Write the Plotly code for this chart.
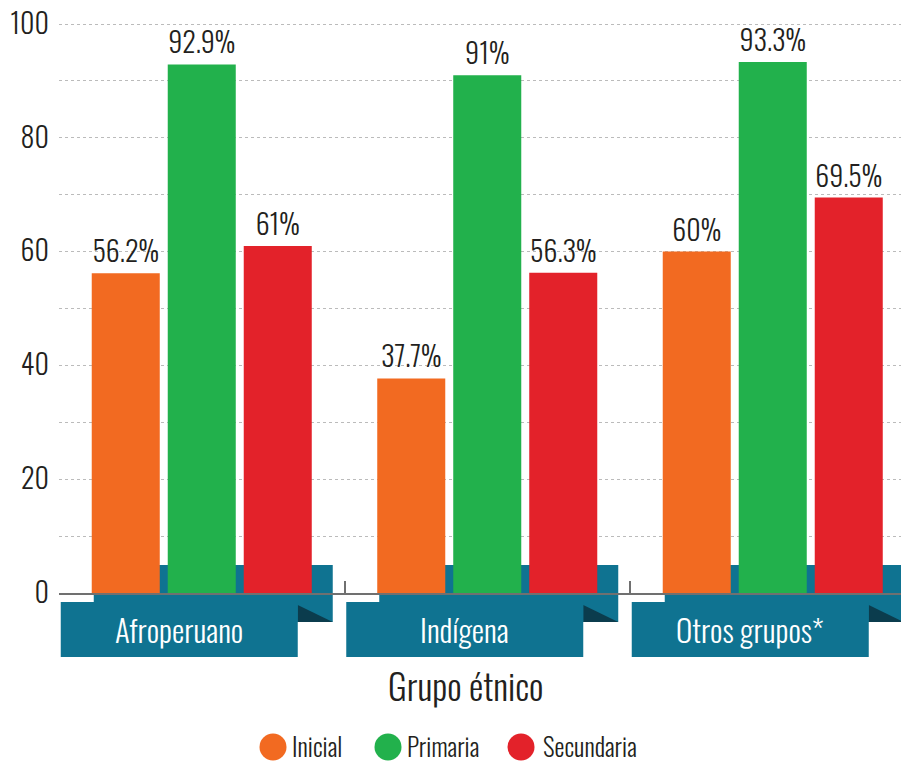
import plotly.graph_objects as go

categories = ["Afroperuano", "Indígena", "Otros grupos*"]
series_names = ["Inicial", "Primaria", "Secundaria"]
inicial = [56.2, 37.7, 60]
primaria = [92.9, 91, 93.3]
secundaria = [61, 56.3, 69.5]
series_values = [inicial, primaria, secundaria]
colors = ["#f26a21", "#22b14c", "#e3222a"]
y_ticks = [0, 20, 40, 60, 80, 100]
x_title = "Grupo étnico"

FONT = "Oswald, Roboto Condensed, sans-serif"
WT = 300
TXT = "#231f20"
TEAL = "#0f7391"
DARK = "#0b3c4d"

W, H = 901, 766
ML, MR, MT, MB = 59, 0, 18, 173
PW = W - ML - MR
PH = H - MT - MB
PPU = 285.5
XMIN = -0.5
XMAX = XMIN + PW / PPU
YPPU = 5.69
YMAX = PH / YPPU

def xp(xd):
    return (xd - XMIN) / (XMAX - XMIN)

def yp_px(py):
    return (H - MB - py) / PH

def xp_px(px):
    return (px - ML) / PW

def fnt(size, color=TXT):
    return dict(family=FONT, size=size, color=color, weight=WT)

fig = go.Figure()
for name, vals, col in zip(series_names, series_values, colors):
    fig.add_trace(go.Bar(
        x=categories, y=vals, name=name, marker=dict(color=col, line=dict(width=0)),
        text=[f"{v:g}%" for v in vals], textposition="outside",
        textfont=fnt(28), cliponaxis=False,
        showlegend=False,
    ))

shapes = []
annotations = []
for i, cat in enumerate(categories):
    shapes.append(dict(type="rect", xref="paper", yref="paper", layer="below",
                       x0=xp(i - 108 / PPU), x1=xp(i + 131 / PPU),
                       y0=yp_px(622), y1=yp_px(565), fillcolor=TEAL, line=dict(width=0)))
    xa, xb = xp(i + 96 / PPU), xp(i + 131 / PPU)
    ya, yb = yp_px(605), yp_px(622)
    shapes.append(dict(type="path", xref="paper", yref="paper", layer="below",
                       path=f"M {xa} {ya} L {xb} {yb} L {xa} {yb} Z",
                       fillcolor=DARK, line=dict(width=0)))
    shapes.append(dict(type="rect", xref="paper", yref="paper", layer="below",
                       x0=xp(i - 141 / PPU), x1=xp(i + 96 / PPU),
                       y0=yp_px(657), y1=yp_px(602), fillcolor=TEAL, line=dict(width=0)))
    annotations.append(dict(text=cat, xref="paper", yref="paper",
                            x=xp(i - 22.5 / PPU), y=yp_px(629), showarrow=False,
                            xanchor="center", yanchor="middle",
                            font=fnt(31, "white")))

annotations.append(dict(text=x_title, xref="paper", yref="paper", x=xp_px(465), y=yp_px(684),
                        showarrow=False, xanchor="center", yanchor="middle",
                        font=fnt(36)))

legend_pos = [(273, 290), (388, 405), (521, 541)]
for (cx, tx), name, col in zip(legend_pos, series_names, colors):
    shapes.append(dict(type="circle", xref="paper", yref="paper",
                       xsizemode="pixel", ysizemode="pixel",
                       xanchor=xp_px(cx), yanchor=yp_px(747),
                       x0=-13.5, x1=13.5, y0=-13.5, y1=13.5,
                       fillcolor=col, line=dict(width=0)))
    annotations.append(dict(text=name, xref="paper", yref="paper", x=xp_px(tx), y=yp_px(745),
                            showarrow=False, xanchor="left", yanchor="middle",
                            font=fnt(25)))

fig.update_layout(
    width=W, height=H, margin=dict(l=ML, r=MR, t=MT, b=MB, autoexpand=False),
    paper_bgcolor="white", plot_bgcolor="rgba(0,0,0,0)",
    barmode="group", bargap=0.2014, bargroupgap=0.105,
    shapes=shapes, annotations=annotations,
    xaxis=dict(range=[XMIN, XMAX], showticklabels=False, showline=True,
               linecolor="#707070", linewidth=2, ticks="inside", tickson="boundaries",
               ticklen=12, tickwidth=2, tickcolor="#707070", showgrid=False, zeroline=False,
               fixedrange=True),
    yaxis=dict(range=[0, YMAX], tickvals=y_ticks, showgrid=True, gridcolor="#bbbbbb",
               griddash="dot", gridwidth=1, zeroline=False, showline=False,
               tickfont=fnt(28), ticklabelstandoff=9, ticklabeloverflow="allow",
               minor=dict(dtick=10, showgrid=True, gridcolor="#bbbbbb", griddash="dot"),
               fixedrange=True),
    font=dict(family=FONT, color=TXT),
)

fig.write_html("out.html", post_script="document.body.style.margin='0';",
               config={"displayModeBar": False})
